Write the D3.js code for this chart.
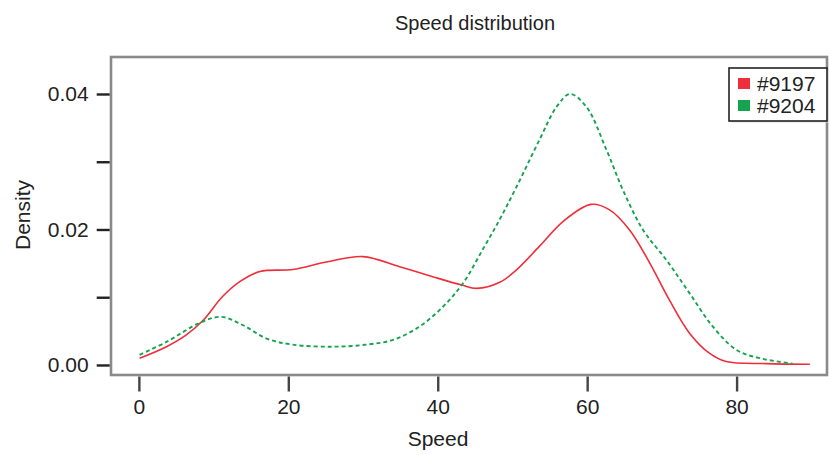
<!DOCTYPE html>
<html>
<head>
<meta charset="utf-8">
<script src="https://cdn.jsdelivr.net/npm/d3@7"></script>
<style>
  body { margin: 0; background: #fff; }
  svg text { font-family: "Liberation Sans", Arial, Helvetica, sans-serif; fill: #222; }
</style>
</head>
<body>
<script>
// Density estimates
const speed9197 = [0.1, 3.7, 6.3, 8.6, 11.2, 13.5, 16.2, 20.6, 25.1, 30.0, 34.9, 39.4, 43.2, 45.2,
    48.3, 50.5, 53.6, 56.8, 60.5, 63.0, 65.7, 68.4, 71.0, 73.7, 76.4, 78.6, 84.0, 89.8];
const density9197 = [0.0010, 0.0027, 0.0044, 0.0066, 0.0101, 0.0123, 0.0138, 0.0141, 0.0152, 0.0160,
    0.0145, 0.0130, 0.0118, 0.0113, 0.0122, 0.0140, 0.0175, 0.0212, 0.0237, 0.0229, 0.0199, 0.0150,
    0.0096, 0.0047, 0.0017, 0.0005, 0.0002, 0.0001];

const speed9204 = [0.1, 3.7, 8.1, 11.0, 13.9, 17.1, 20.6, 26.0, 30.4, 34.0, 37.6, 40.7, 43.4, 46.1,
    48.3, 50.5, 53.6, 55.9, 57.7, 59.9, 62.6, 64.8, 67.5, 70.6, 73.7, 76.8, 80.0, 83.1, 87.5];
const density9204 = [0.0015, 0.0034, 0.0062, 0.0071, 0.0059, 0.0039, 0.0030, 0.0027, 0.0030, 0.0037,
    0.0057, 0.0086, 0.0121, 0.0172, 0.0215, 0.0262, 0.0332, 0.0381, 0.0400, 0.0381, 0.0317, 0.0258,
    0.0199, 0.0155, 0.0106, 0.0057, 0.0022, 0.0010, 0.0002];

const seriesNames = ["#9197", "#9204"];
const seriesColors = ["#ee2e3a", "#16a34f"];
const xTicks = [0, 20, 40, 60, 80];
const yTicks = [0, 0.01, 0.02, 0.03, 0.04];
const yLabelTicks = [0, 0.02, 0.04];

const W = 830, H = 455;
const box = { left: 111, top: 57, right: 827, bottom: 375 };

const svg = d3.select("body").append("svg")
    .attr("width", W)
    .attr("height", H);

const x = d3.scaleLinear().domain([-3.73, 92.1]).range([box.left, box.right]);
const y = d3.scaleLinear().domain([-0.00148, 0.04546]).range([box.bottom, box.top]);

// Curves
const line = d3.line()
    .x(d => x(d[0]))
    .y(d => y(d[1]))
    .curve(d3.curveCatmullRom.alpha(0.5));

const series = [
    { name: seriesNames[0], pts: d3.zip(speed9197, density9197), dash: null, w: 1.6 },
    { name: seriesNames[1], pts: d3.zip(speed9204, density9204), dash: "4,3", w: 1.9 }
];

svg.selectAll("path.curve")
    .data(series)
    .enter()
    .append("path")
    .attr("class", "curve")
    .attr("d", d => line(d.pts))
    .attr("fill", "none")
    .attr("stroke", (d, i) => seriesColors[i])
    .attr("stroke-width", d => d.w)
    .attr("stroke-dasharray", d => d.dash);

// Plot box
svg.append("rect")
    .attr("x", box.left)
    .attr("y", box.top)
    .attr("width", box.right - box.left)
    .attr("height", box.bottom - box.top)
    .attr("fill", "none")
    .attr("stroke", "#8a8a8a")
    .attr("stroke-width", 2.6);

// Axes
const xAxis = d3.axisBottom(x)
    .tickValues(xTicks)
    .tickSize(15)
    .tickPadding(8)
    .tickFormat(d3.format("d"));

const gx = svg.append("g")
    .attr("transform", `translate(0, ${box.bottom + 1.5})`)
    .call(xAxis);
gx.select(".domain").remove();
gx.selectAll("line").attr("stroke", "#444").attr("stroke-width", 2.4);
gx.selectAll("text").style("font-size", "21px").style("fill", "#222");

const yAxis = d3.axisLeft(y)
    .tickValues(yTicks)
    .tickSize(13)
    .tickPadding(8)
    .tickFormat(d => yLabelTicks.some(v => Math.abs(v - d) < 1e-9) ? d3.format(".2f")(d) : "");

const gy = svg.append("g")
    .attr("transform", `translate(${box.left - 1.3}, 0)`)
    .call(yAxis);
gy.select(".domain").remove();
gy.selectAll("line").attr("stroke", "#222").attr("stroke-width", 2.4);
gy.selectAll("text").style("font-size", "21px").style("fill", "#222");

// Titles
svg.append("text")
    .attr("x", 475)
    .attr("y", 30)
    .attr("text-anchor", "middle")
    .style("font-size", "20px")
    .text("Speed distribution");

svg.append("text")
    .attr("x", 438)
    .attr("y", 446)
    .attr("text-anchor", "middle")
    .style("font-size", "21px")
    .text("Speed");

svg.append("text")
    .attr("transform", `translate(30, 215) rotate(-90)`)
    .attr("text-anchor", "middle")
    .style("font-size", "21px")
    .text("Density");

// Legend
const legend = svg.append("g").attr("transform", "translate(729, 68)");
legend.append("rect")
    .attr("x", 1.5).attr("y", 1.5)
    .attr("width", 98).attr("height", 53)
    .attr("fill", "#ddd");
legend.append("rect")
    .attr("width", 98).attr("height", 53)
    .attr("fill", "#fff")
    .attr("stroke", "#222")
    .attr("stroke-width", 1.6);

const items = legend.selectAll("g.item")
    .data(seriesNames)
    .enter()
    .append("g")
    .attr("class", "item")
    .attr("transform", (d, i) => `translate(0, ${15 + i * 22})`);

items.append("rect")
    .attr("x", 9).attr("y", -5)
    .attr("width", 12).attr("height", 11)
    .attr("fill", (d, i) => seriesColors[i]);

items.append("text")
    .attr("x", 28)
    .attr("y", 7.5)
    .style("font-size", "21px")
    .text(d => d);
</script>
</body>
</html>
